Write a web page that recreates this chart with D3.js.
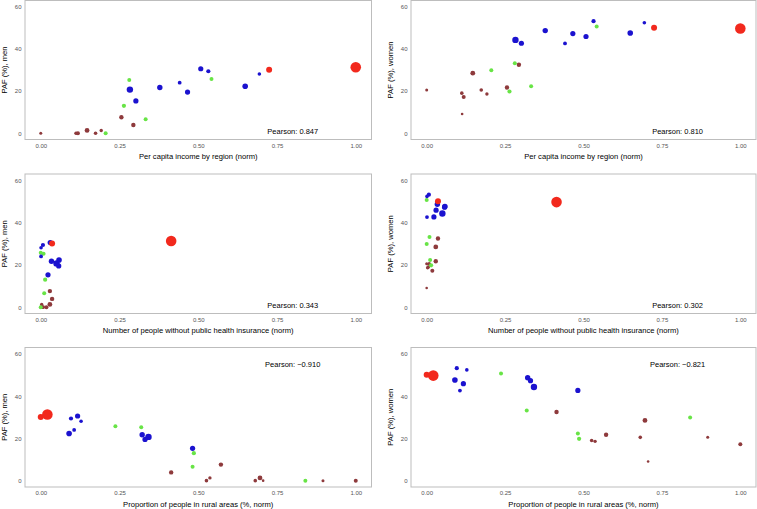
<!DOCTYPE html>
<html>
<head>
<meta charset="utf-8">
<script src="https://cdn.jsdelivr.net/npm/d3@7"></script>
<style>
  html, body { margin: 0; padding: 0; background: #fff; }
  svg { display: block; font-family: "Liberation Sans", Arial, Helvetica, sans-serif; }
</style>
</head>
<body>
<svg id="chart" width="757" height="509"></svg>
<script>
// ---- data (one entry per region) ----
const regions   = ["A","B","C","D","E","F","G","H","I","J","K","L","M","N","O","P","Q","R","S","T","U","V","W","X","Y"];
const group     = ["g4","g4","g4","g4","g4","g4","g4","g4","g4","g3","g3","g3","g3","g3","g2","g2","g2","g2","g2","g2","g2","g2","g2","g1","g1"];
const popSize   = [1.5,1.8,1.3,2.0,2.4,1.8,1.7,2.2,2.2,2.0,2.1,2.0,2.0,2.0,3.2,2.6,2.7,1.9,2.6,2.6,2.1,2.8,1.8,3.0,5.3];
const income    = [0.000,0.112,0.113,0.118,0.147,0.174,0.192,0.256,0.294,0.206,0.264,0.281,0.333,0.542,0.283,0.302,0.378,0.441,0.466,0.508,0.532,0.649,0.694,0.725,1.000];
const uninsured = [0.000,0.005,0.000,0.018,0.029,0.008,0.003,0.029,0.036,0.000,0.014,0.009,0.011,0.000,0.050,0.023,0.034,0.001,0.057,0.030,0.007,0.058,0.001,0.036,0.414];
const rural     = [0.896,0.526,0.706,1.000,0.696,0.681,0.537,0.572,0.414,0.840,0.486,0.319,0.482,0.237,0.342,0.482,0.322,0.106,0.331,0.117,0.096,0.090,0.128,0.000,0.021];
const pafMen    = [0.0,0.0,0.0,0.0,1.3,0.0,1.3,7.6,3.9,0.0,13.0,25.3,6.6,25.7,20.7,15.3,21.7,24.0,19.5,30.6,29.4,22.3,28.1,30.1,31.3];
const pafWomen  = [20.5,19.0,9.1,17.2,28.5,20.5,18.6,21.7,32.5,29.9,19.8,33.2,22.3,50.7,44.3,42.7,48.7,42.6,47.3,45.9,53.2,47.6,52.4,50.1,49.7];

const xTicks = [0, 0.25, 0.5, 0.75, 1];
const yTicks = [0, 20, 40, 60];

const xTitles = ["Per capita income by region (norm)",
                 "Number of people without public health insurance (norm)",
                 "Proportion of people in rural areas (%, norm)"];
const yTitles = ["PAF (%), men", "PAF (%), women"];
const pearson = [["0.847", "0.810"], ["0.343", "0.302"], ["\u22120.910", "\u22120.821"]];
const pearsonY = [1, 1, 55];

const groupColor = { g1: "#f2291d", g2: "#1b12cf", g3: "#68e446", g4: "#8e3a3c" };

// ---- layout ----
const cols = [[25, 371.5], [411, 756]];
const rows = [[0.5, 139.5], [174, 313.5], [347.5, 487]];
const xVars = [income, uninsured, rural];
const yVars = [pafMen, pafWomen];

const svg = d3.select("#chart");

rows.forEach((ry, ri) => {
  cols.forEach((cx, ci) => {
    const x = d3.scaleLinear().domain([-0.05, 1.05]).range(cx);
    const y = d3.scaleLinear().domain([-3, 63]).range([ry[1], ry[0]]);
    const g = svg.append("g");

    // panel border
    g.append("rect")
      .attr("x", cx[0]).attr("y", ry[0])
      .attr("width", cx[1] - cx[0]).attr("height", ry[1] - ry[0])
      .attr("fill", "none").attr("stroke", "#bdbdbd").attr("stroke-width", 1);

    // axes
    const xa = g.append("g").attr("transform", `translate(0,${ry[1]})`)
      .call(d3.axisBottom(x).tickValues(xTicks).tickFormat(d3.format(".2f")).tickSize(0).tickPadding(4));
    const ya = g.append("g").attr("transform", `translate(${cx[0]},0)`)
      .call(d3.axisLeft(y).tickValues(yTicks).tickFormat(d3.format("d")).tickSize(0).tickPadding(3.5));
    [xa, ya].forEach(a => {
      a.select(".domain").remove();
      a.selectAll("text").attr("font-size", 6).attr("fill", "#555")
        .attr("font-family", "'Liberation Sans', Arial, sans-serif");
    });

    // axis titles
    g.append("text")
      .attr("x", (cx[0] + cx[1]) / 2).attr("y", ry[1] + 19.5)
      .attr("text-anchor", "middle").attr("font-size", 7.6).attr("fill", "#000")
      .text(xTitles[ri]);
    g.append("text")
      .attr("transform", `translate(${cx[0] - 18.5},${(ry[0] + ry[1]) / 2}) rotate(-90)`)
      .attr("text-anchor", "middle").attr("font-size", 7.6).attr("fill", "#000")
      .text(yTitles[ci]);

    // points
    const xs = xVars[ri], ys = yVars[ci];
    const pts = regions.map((r, i) => ({ r, i, x: xs[i], y: ys[i], g: group[i], s: popSize[i] }));
    g.selectAll("circle").data(pts).join("circle")
      .attr("cx", d => x(d.x)).attr("cy", d => y(d.y))
      .attr("r", d => d.s)
      .attr("fill", d => groupColor[d.g]);

    // pearson annotation
    g.append("text")
      .attr("x", x(0.8)).attr("y", y(pearsonY[ri])).attr("dy", "0.35em")
      .attr("text-anchor", "middle").attr("font-size", 7.5).attr("fill", "#000")
      .text("Pearson: " + pearson[ri][ci]);
  });
});
</script>
</body>
</html>
